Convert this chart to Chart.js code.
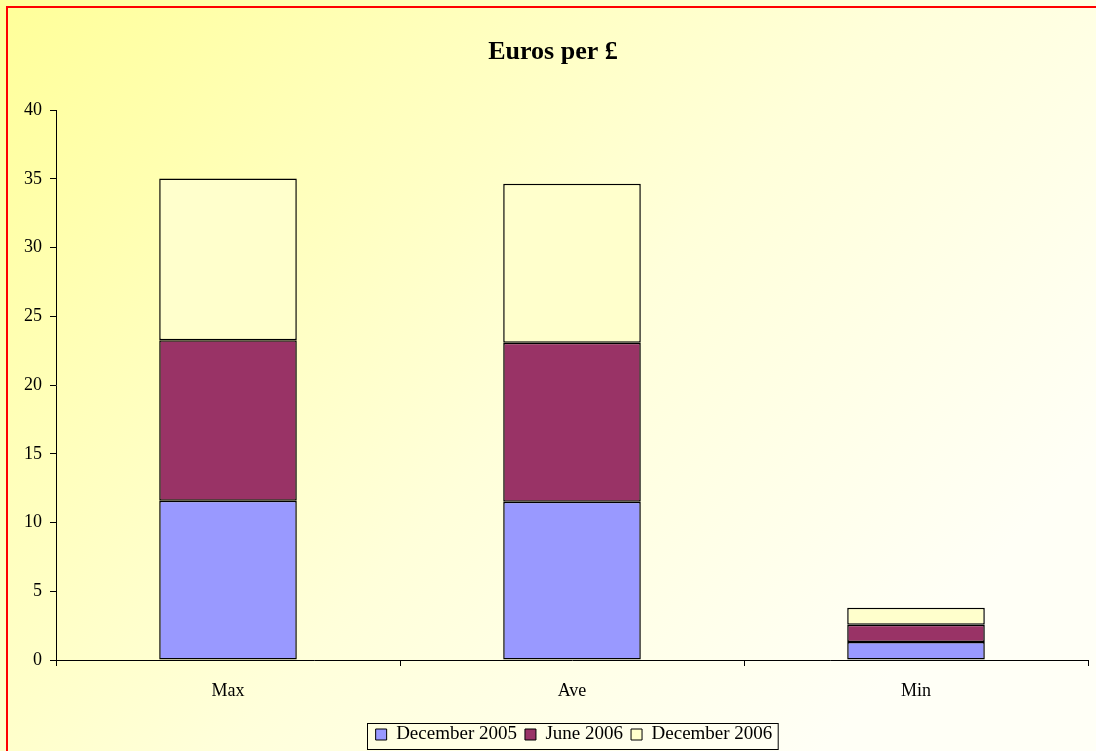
<!DOCTYPE html>
<html>
<head>
<meta charset="utf-8">
<script src="https://cdn.jsdelivr.net/npm/chart.js@4/dist/chart.umd.min.js"></script>
<style>
html,body{margin:0;padding:0;background:#fff;overflow:hidden;}
#wrap{position:relative;width:1096px;height:751px;}
</style>
</head>
<body>
<div id="wrap"><canvas id="c" width="1096" height="751"></canvas></div>
<script>
const categories = ["Max", "Ave", "Min"];
const seriesNames = ["December 2005", "June 2006", "December 2006"];
const dec2005 = [11.59, 11.51, 1.31];
const jun2006 = [11.68, 11.57, 1.26];
const dec2006 = [11.76, 11.56, 1.23];
const yTicks = [0, 5, 10, 15, 20, 25, 30, 35, 40];
const colors = ["#9999FF", "#993366", "#FFFFCC"];

const FONT = "'Liberation Serif', 'Times New Roman', serif";

const bgPlugin = {
  id: 'bg',
  afterLayout(chart) {
    const lg = chart.legend;
    if (lg) { lg.left += 21; lg.right += 21; lg.top += 3; lg.bottom += 3; }
  },
  beforeDraw(chart) {
    const ctx = chart.ctx;
    const w = chart.width, h = chart.height;
    ctx.save();
    const g = ctx.createLinearGradient(0, 0, w * 0.75, h);
    g.addColorStop(0, '#FFFF99');
    g.addColorStop(0.3, '#FFFFBB');
    g.addColorStop(0.6, '#FFFFDA');
    g.addColorStop(1, '#FFFFF6');
    ctx.fillStyle = g;
    ctx.fillRect(0, 0, w, h);
    ctx.strokeStyle = '#FF0000';
    ctx.lineWidth = 2;
    ctx.beginPath();
    ctx.moveTo(7, h + 5);
    ctx.lineTo(7, 7);
    ctx.lineTo(w + 5, 7);
    ctx.stroke();
    ctx.restore();
  },
  afterDraw(chart) {
    const lg = chart.legend;
    if (!lg) return;
    const ctx = chart.ctx;
    ctx.save();
    ctx.strokeStyle = '#000';
    ctx.lineWidth = 1;
    const lw = lg.lineWidths[0];
    const x = Math.round(lg.left + (lg.width - lw) / 2) - 4.5;
    const cy = lg.top + 8 + 11.4;
    const y = Math.round(cy - 13) + 0.5;
    ctx.strokeRect(x, y, lw + 6, 26);
    ctx.restore();
  }
};

new Chart(document.getElementById('c'), {
  type: 'bar',
  data: {
    labels: categories,
    datasets: [
      { label: seriesNames[0], data: dec2005, backgroundColor: colors[0] },
      { label: seriesNames[1], data: jun2006, backgroundColor: colors[1] },
      { label: seriesNames[2], data: dec2006, backgroundColor: colors[2] }
    ].map(d => Object.assign(d, {
      borderColor: '#000', borderWidth: 1.5, borderSkipped: false,
      categoryPercentage: 1.0, barPercentage: 0.4
    }))
  },
  options: {
    responsive: false,
    animation: false,
    devicePixelRatio: 1,
    layout: { padding: { left: 18, right: 8, top: 20, bottom: 0 } },
    plugins: {
      title: {
        display: true, text: 'Euros per £', color: '#000',
        font: { family: FONT, size: 26, weight: 'bold' },
        padding: { top: 17, bottom: 42 }
      },
      legend: {
        display: true, position: 'bottom',
        labels: {
          color: '#000', font: { family: FONT, size: 19 },
          boxWidth: 11, boxHeight: 11, padding: 8,
          generateLabels(chart) {
            return chart.data.datasets.map((d, i) => ({
              text: d.label, fillStyle: d.backgroundColor, strokeStyle: '#000',
              lineWidth: 1, datasetIndex: i, fontColor: '#000'
            }));
          }
        }
      },
      tooltip: { enabled: false }
    },
    scales: {
      x: {
        stacked: true,
        grid: { display: true, drawOnChartArea: false, offset: true, color: '#000', tickLength: 6 },
        border: { display: true, color: '#000', width: 1 },
        ticks: { color: '#000', font: { family: FONT, size: 18 }, padding: 14 },
        afterFit(s) { s.height = 54; }
      },
      y: {
        stacked: true, min: 0, max: 40,
        afterBuildTicks(s) { s.ticks = yTicks.map(v => ({ value: v })); },
        grid: { display: true, drawOnChartArea: false, color: '#000', tickLength: 6 },
        border: { display: true, color: '#000', width: 1 },
        ticks: { color: '#000', font: { family: FONT, size: 18 }, padding: 8 },
        afterFit(s) { s.width = 38; }
      }
    }
  },
  plugins: [bgPlugin]
});
</script>
</body>
</html>
